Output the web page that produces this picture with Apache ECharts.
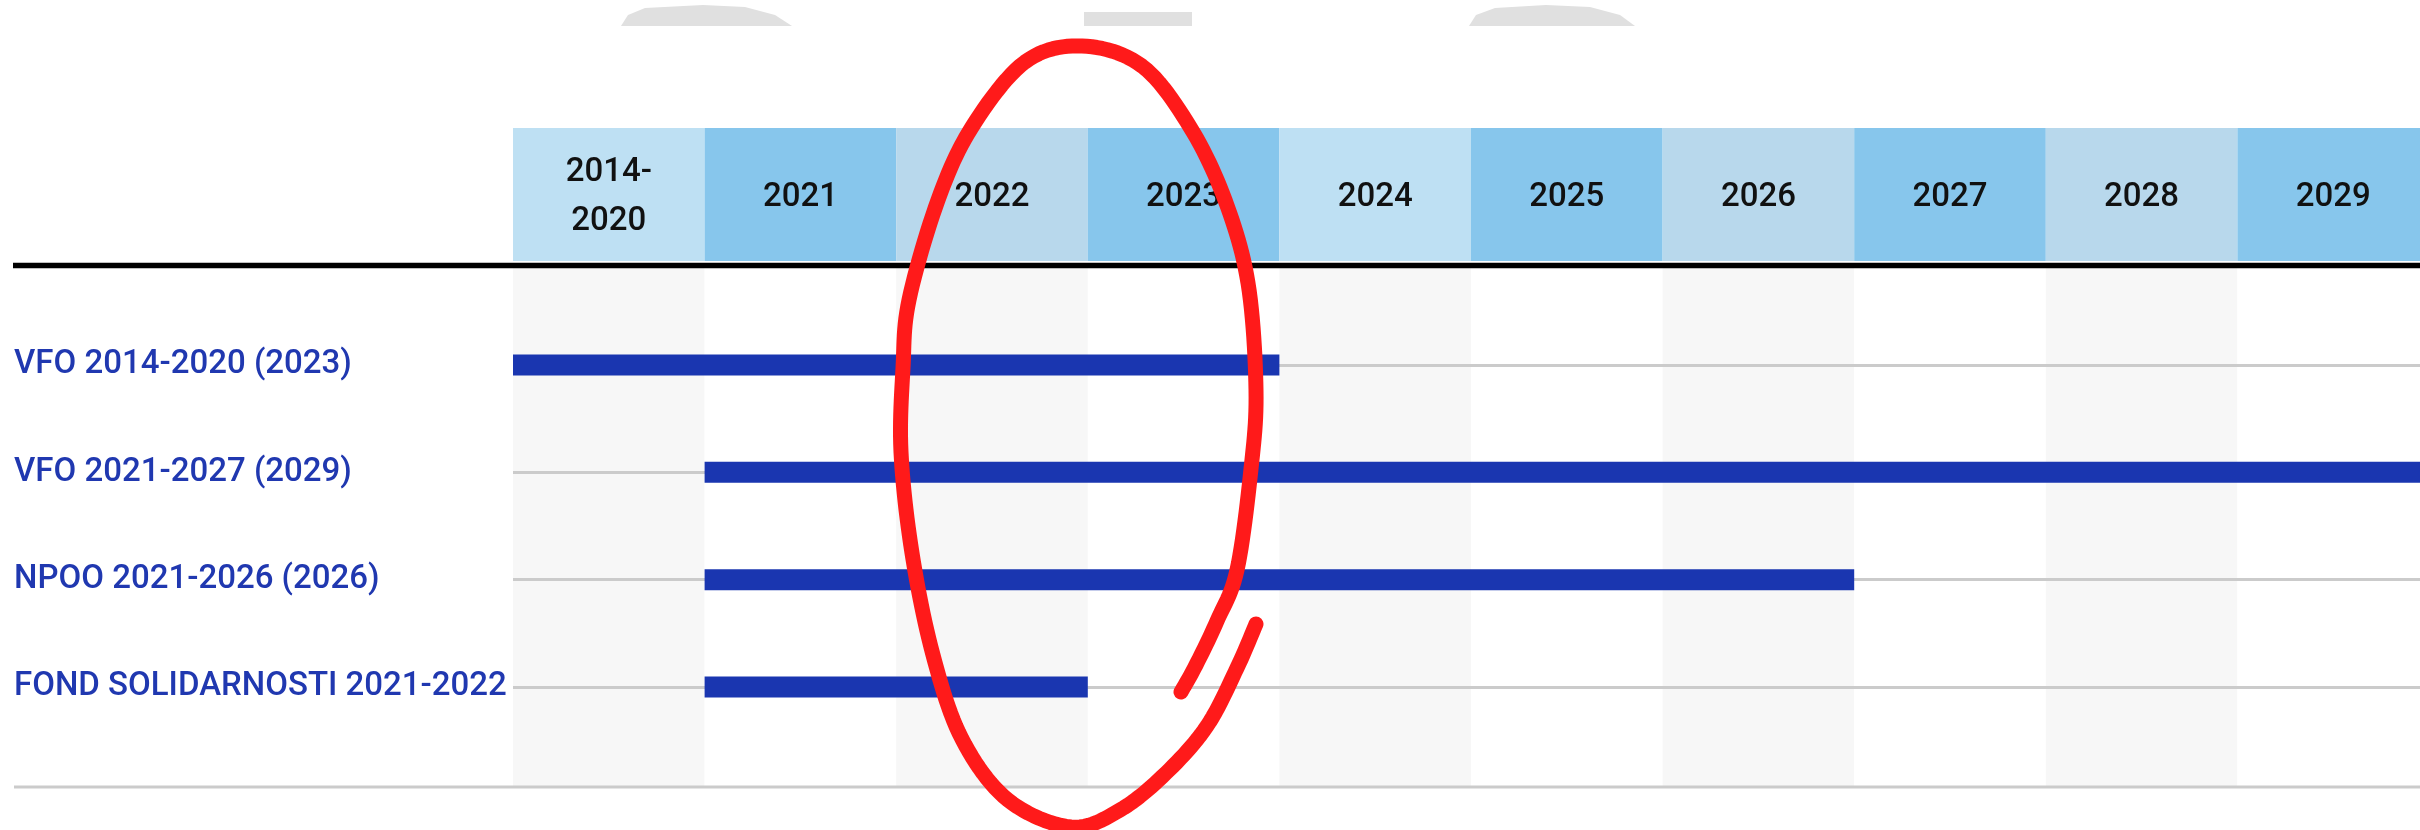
<!DOCTYPE html>
<html lang="hr">
<head>
    <meta charset="UTF-8">
    <script src="https://cdn.jsdelivr.net/npm/echarts@6.0.0/dist/echarts.min.js"></script>
    <title>Fondovi EU</title>
    <style>
        html, body { margin: 0; padding: 0; background: #fff; }
        #tu { width: 2420px; height: 830px; }
    </style>
</head>
<body>
<div id="tu"></div>
<script type="text/javascript">
    // stupci (godine) i redovi (programi)
    var years = ['2014-\n2020', '2021', '2022', '2023', '2024', '2025', '2026', '2027', '2028', '2029'];
    var programs = ['VFO 2014-2020 (2023)', 'VFO 2021-2027 (2029)', 'NPOO 2021-2026 (2026)', 'FOND SOLIDARNOSTI 2021-2022'];
    // pocetni i zavrsni stupac svakog programa
    var periodStart = ['2014-\n2020', '2021', '2021', '2021'];
    var periodEnd = ['2023', '2029', '2026', '2022'];

    var headerColors = ['#bee0f3', '#87c6ec', '#b8d8ec', '#87c6ec', '#bee0f3', '#87c6ec', '#b8d8ec', '#87c6ec', '#b8d8ec', '#87c6ec'];

    var startVals = periodStart.map(function (y) { return years.indexOf(y); });
    var lenVals = periodEnd.map(function (y, i) { return years.indexOf(y) + 1 - startVals[i]; });

    var FONT = 'Roboto, "Noto Sans", sans-serif';
    var L = 513, W = 1916;

    // crveni rukom crtani oval (oznaka) - kontrolne tocke
    var ring = [[1256, 624], [1237, 668], [1207, 726], [1166, 773], [1120, 810], [1071, 827], [1008, 800],
        [962, 739], [933, 655], [912, 553], [901, 452], [903, 368], [909, 300], [938, 200], [972, 127],
        [1025, 62], [1082, 46], [1142, 66], [1190, 127], [1225, 200], [1248, 283], [1256, 390],
        [1251, 469], [1237, 570], [1217, 621], [1196, 665], [1181, 692]];

    // gladak potez (Catmull-Rom)
    function spline(p, n) {
        var out = [];
        for (var i = 0; i < p.length - 1; i++) {
            var p0 = p[Math.max(i - 1, 0)], p1 = p[i], p2 = p[i + 1], p3 = p[Math.min(i + 2, p.length - 1)];
            for (var k = 0; k < n; k++) {
                var t = k / n, t2 = t * t, t3 = t2 * t;
                out.push([0, 1].map(function (d) {
                    return 0.5 * ((2 * p1[d]) + (-p0[d] + p2[d]) * t +
                        (2 * p0[d] - 5 * p1[d] + 4 * p2[d] - p3[d]) * t2 +
                        (-p0[d] + 3 * p1[d] - 3 * p2[d] + p3[d]) * t3);
                }));
            }
        }
        out.push(p[p.length - 1]);
        return out;
    }

    var thisChart = echarts.init(document.getElementById('tu'));
    var option = {
        backgroundColor: '#fff',
        animation: false,
        grid: [
            { left: L, width: W, top: 128, height: 133, outerBoundsMode: 'none' },   // zaglavlje
            { left: L, width: W, top: 268, bottom: 43, outerBoundsMode: 'none' },    // pozadinski stupci
            { left: L, width: W, top: 365, bottom: 143, outerBoundsMode: 'none' }    // trake
        ],
        xAxis: [
            { gridIndex: 0, type: 'category', data: years, show: false },
            {
                gridIndex: 1, type: 'category', data: years, z: 0,
                axisLine: { show: false }, axisTick: { show: false }, axisLabel: { show: false },
                splitLine: { show: false },
                splitArea: { show: true, interval: 0, areaStyle: { color: ['#f7f7f7', '#ffffff'] } }
            },
            { gridIndex: 2, type: 'value', min: 0, max: years.length, show: false, splitLine: { show: false } }
        ],
        yAxis: [
            { gridIndex: 0, type: 'value', min: 0, max: 1, show: false },
            { gridIndex: 1, type: 'value', show: false },
            {
                gridIndex: 2, type: 'category', data: programs, inverse: true, boundaryGap: false, z: 1,
                axisLine: { show: false }, axisTick: { show: false },
                splitLine: { show: true, interval: 0, lineStyle: { color: '#cbcbcb', width: 3 } },
                axisLabel: {
                    interval: 0, align: 'left', margin: L - 14,
                    color: '#2038b0', fontSize: 33, fontWeight: 500, fontFamily: FONT
                }
            }
        ],
        series: [
            {
                type: 'bar', xAxisIndex: 0, yAxisIndex: 0, barCategoryGap: 0, silent: true,
                data: years.map(function (y, i) { return { value: 1, itemStyle: { color: headerColors[i] } }; }),
                label: {
                    show: true, position: 'inside', formatter: '{b}', offset: [0, 3],
                    color: '#111', fontSize: 33, fontWeight: 500, fontFamily: FONT, lineHeight: 49
                }
            },
            {
                name: 'start', type: 'bar', xAxisIndex: 2, yAxisIndex: 2, stack: 'p', barWidth: 21,
                itemStyle: { color: 'transparent' }, data: startVals, silent: true
            },
            {
                name: 'trajanje', type: 'bar', xAxisIndex: 2, yAxisIndex: 2, stack: 'p', barWidth: 21,
                itemStyle: { color: '#1a36b0' }, data: lenVals
            }
        ],
        graphic: [
            { type: 'line', shape: { x1: 13, y1: 265.5, x2: 2420, y2: 265.5 }, style: { stroke: '#000', lineWidth: 5.5 }, z: 50 },
            { type: 'line', shape: { x1: 14, y1: 787, x2: 2420, y2: 787 }, style: { stroke: '#cbcbcb', lineWidth: 3 }, z: 50 },
            { type: 'polygon', shape: { points: [[621, 26], [628, 15], [645, 8], [703, 5], [745, 7], [775, 15], [792, 26]] }, style: { fill: '#e0e0e0' } },
            { type: 'rect', shape: { x: 1084, y: 12, width: 108, height: 14 }, style: { fill: '#e0e0e0' } },
            { type: 'polygon', shape: { points: [[1469, 26], [1476, 15], [1495, 8], [1546, 5], [1590, 7], [1620, 15], [1635, 26]] }, style: { fill: '#e0e0e0' } },
            {
                type: 'polyline', z: 100,
                shape: { points: spline(ring, 12) },
                style: { stroke: '#ff1a1a', lineWidth: 15, lineCap: 'round', lineJoin: 'round', fill: null }
            }
        ]
    };
    thisChart.setOption(option);
</script>
</body>
</html>
